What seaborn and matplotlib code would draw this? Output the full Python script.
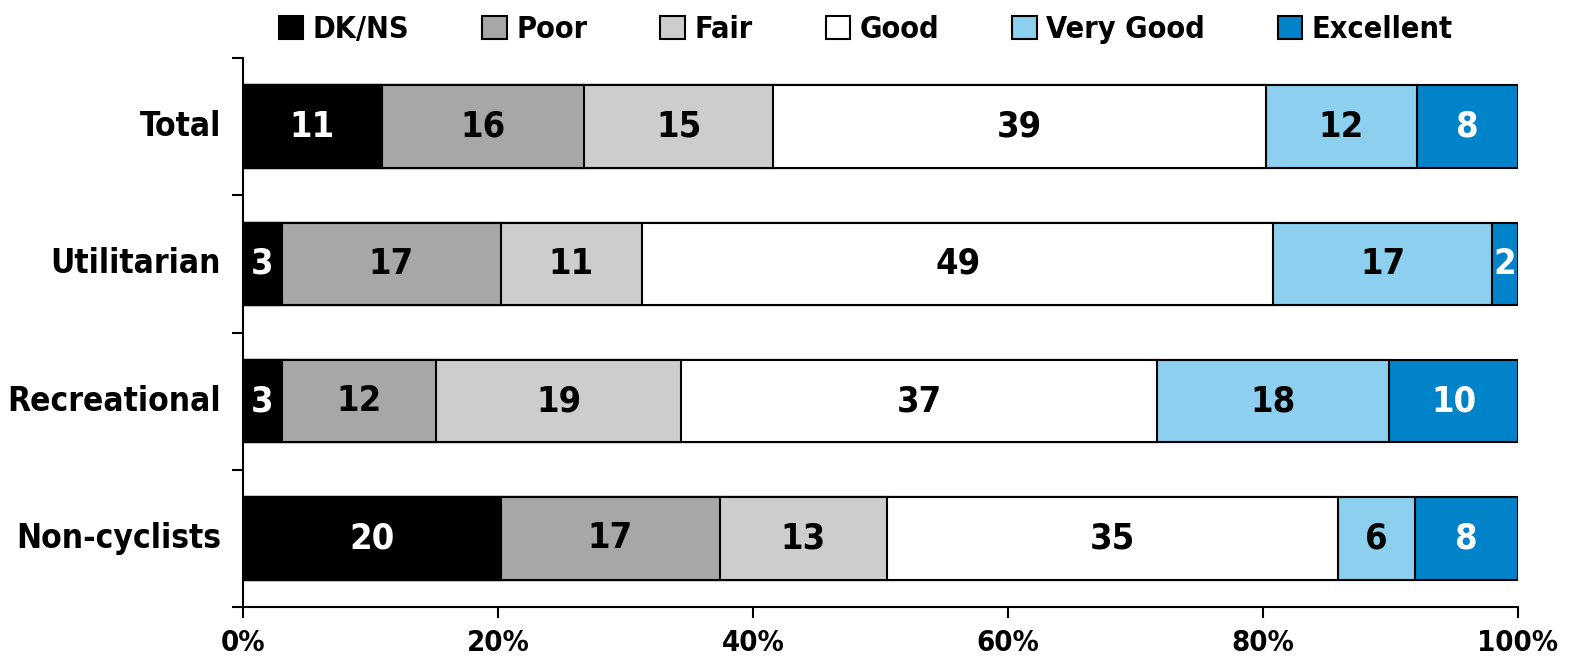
import matplotlib
matplotlib.use("Agg")
import matplotlib.pyplot as plt
from matplotlib.patches import Patch
from matplotlib.ticker import FixedLocator
import seaborn as sns
import numpy as np
import pandas as pd

categories = ["Total", "Utilitarian", "Recreational", "Non-cyclists"]
series = ["DK/NS", "Poor", "Fair", "Good", "Very Good", "Excellent"]
dk_ns = [11, 3, 3, 20]
poor = [16, 17, 12, 17]
fair = [15, 11, 19, 13]
good = [39, 49, 37, 35]
very_good = [12, 17, 18, 6]
excellent = [8, 2, 10, 8]
x_ticks = [0, 20, 40, 60, 80, 100]
x_tick_labels = ["0%", "20%", "40%", "60%", "80%", "100%"]

colors = ["#000000", "#A6A8A7", "#CDCDCD", "#FFFFFF", "#8CCFEE", "#0083C8"]
text_colors = ["white", "black", "black", "black", "black", "white"]

sns.set_theme(style="white")
plt.rcParams["font.family"] = ["DejaVu Sans"]
plt.rcParams["font.weight"] = "bold"
plt.rcParams["font.stretch"] = "condensed"
plt.rcParams["text.color"] = "black"
plt.rcParams["xtick.color"] = "black"
plt.rcParams["ytick.color"] = "black"
plt.rcParams["axes.labelcolor"] = "black"

vals = np.array([dk_ns, poor, fair, good, very_good, excellent], dtype=float)
share = vals / vals.sum(axis=0) * 100
cum = np.cumsum(share, axis=0)

fig = plt.figure(figsize=(15.77, 6.61), dpi=100)
ax = fig.add_axes([243 / 1577, 1 - 607 / 661, (1518 - 243) / 1577, (607 - 58) / 661])

# draw from widest (cumulative) to narrowest so segments stack
for i in range(len(series) - 1, -1, -1):
    df = pd.DataFrame({"cat": categories, "end": cum[i]})
    sns.barplot(data=df, y="cat", x="end", orient="h", color=colors[i],
                saturation=1, edgecolor="black", linewidth=1.5, width=0.6, ax=ax)

for i in range(len(series)):
    for j in range(len(categories)):
        center = cum[i][j] - share[i][j] / 2
        ax.text(center, j, f"{int(vals[i][j])}", ha="center", va="center",
                color=text_colors[i], fontsize=26, fontweight="bold")

ax.set_xlim(0, 100)
ax.set_ylim(len(categories) - 0.5, -0.5)
ax.set_xticks(x_ticks)
ax.set_xticklabels(x_tick_labels, fontsize=21, fontweight="bold")
ax.set_yticks(range(len(categories)))
ax.set_yticklabels(categories, fontsize=24, fontweight="bold", va="center")
ax.yaxis.set_minor_locator(FixedLocator(np.arange(-0.5, len(categories), 1)))
ax.tick_params(axis="y", which="major", left=True, length=0, pad=16)
ax.tick_params(axis="y", which="minor", left=True, length=8, width=1.5, color="black", direction="out")
ax.tick_params(axis="x", which="major", bottom=True, length=8, width=1.5, color="black", direction="out", pad=8)
ax.set_xlabel("")
ax.set_ylabel("")
for s in ["top", "right"]:
    ax.spines[s].set_visible(False)
for s in ["left", "bottom"]:
    ax.spines[s].set_color("black")
    ax.spines[s].set_linewidth(1.5)

handles = [Patch(facecolor=c, edgecolor="black", linewidth=1.5) for c in colors]
fig.legend(handles, series, loc="center", bbox_to_anchor=(0.549, 0.955), ncol=6,
           frameon=False, handlelength=0.8, handleheight=0.8,
           handletextpad=0.3, columnspacing=2.4, prop={"weight": "bold", "size": 22})

fig.savefig("out.png", dpi=100)
